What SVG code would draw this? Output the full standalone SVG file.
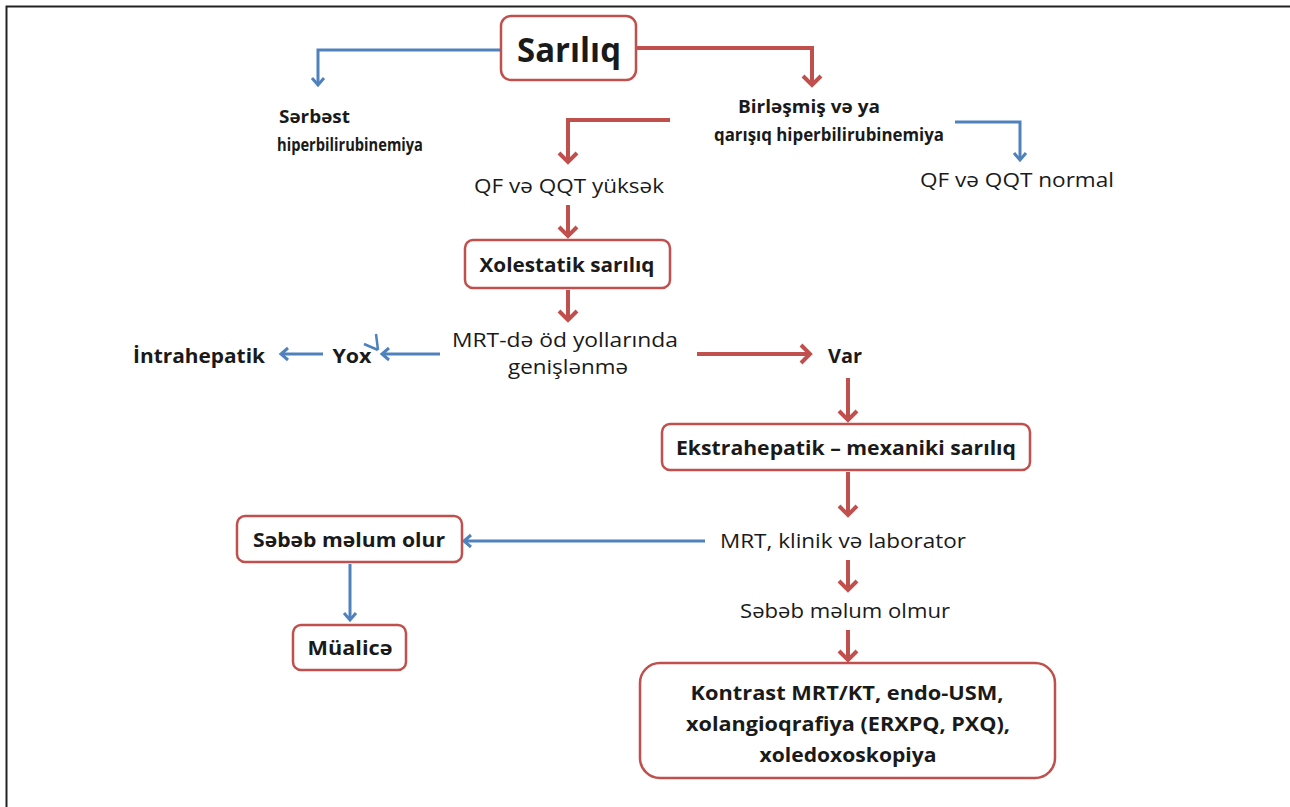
<svg xmlns="http://www.w3.org/2000/svg" width="1290" height="807" viewBox="0 0 1290 807">
<style>
.box{fill:#fff;stroke:#c0504d;stroke-width:2.5}
.r{fill:none;stroke:#c0504d;stroke-width:4;marker-end:url(#ar)}
.b{fill:none;stroke:#4f81bd;stroke-width:3;marker-end:url(#ab)}
text{font-family:"Open Sans","Noto Sans",sans-serif;fill:#1a1a1a;text-anchor:middle;font-size:20px}
.bd{font-weight:bold}
.sm{font-size:17px}
</style>
<defs>
<marker id="ar" viewBox="-12 -12 14 24" refX="0" refY="0" markerWidth="14" markerHeight="24" markerUnits="userSpaceOnUse" orient="auto" overflow="visible">
<path d="M-9,-9 L0,0 L-9,9" fill="none" stroke="#c0504d" stroke-width="4" stroke-linejoin="miter"/>
</marker>
<marker id="ab" viewBox="-10 -10 12 20" refX="0" refY="0" markerWidth="12" markerHeight="20" markerUnits="userSpaceOnUse" orient="auto" overflow="visible">
<path d="M-7,-6 L0,0 L-7,6" fill="none" stroke="#4f81bd" stroke-width="3"/>
</marker>
</defs>
<rect width="1290" height="807" fill="#fff"/>
<path d="M6.5,807 V6.5 H1290" fill="none" stroke="#222" stroke-width="2"/>

<g id="connectors">
<path class="b" d="M501,50 H318 V85"/>
<path class="r" d="M636,48 H812 V85"/>
<path class="r" d="M670,120 H568 V162"/>
<path class="b" d="M955,122 H1020 V160"/>
<path class="r" d="M568,205 V236"/>
<path class="r" d="M568,290 V320"/>
<path class="b" d="M440,354 H382"/>
<path d="M376,334 L378,350 M364,344 L378,350" fill="none" stroke="#4f81bd" stroke-width="2.5"/>
<path class="b" d="M323,354 H281"/>
<path class="r" d="M697,354 H810"/>
<path class="r" d="M848,378 V420"/>
<path class="r" d="M848,472 V515"/>
<path class="b" d="M705,541 H464"/>
<path class="b" d="M350,564 V620"/>
<path class="r" d="M848,560 V590"/>
<path class="r" d="M848,630 V660"/>
</g>

<g id="sariliq">
<rect class="box" x="501" y="16" width="135" height="64" rx="10"/>
<text class="bd" x="569" y="62" style="font-size:34px" textLength="104" lengthAdjust="spacingAndGlyphs">Sarılıq</text>
</g>
<g id="serbest">
<text class="bd sm" x="279" y="123" style="text-anchor:start" textLength="71" lengthAdjust="spacingAndGlyphs">Sərbəst</text>
<text class="bd sm" x="277" y="151" style="text-anchor:start" textLength="146" lengthAdjust="spacingAndGlyphs">hiperbilirubinemiya</text>
</g>
<g id="birlesmis">
<text class="bd sm" x="809" y="113" textLength="142" lengthAdjust="spacingAndGlyphs">Birləşmiş və ya</text>
<text class="bd sm" x="829" y="141" textLength="230" lengthAdjust="spacingAndGlyphs">qarışıq hiperbilirubinemiya</text>
</g>
<g id="qf-yuksek">
<text x="569" y="193" textLength="190" lengthAdjust="spacingAndGlyphs">QF və QQT yüksək</text>
</g>
<g id="qf-normal">
<text x="1017" y="187" textLength="194" lengthAdjust="spacingAndGlyphs">QF və QQT normal</text>
</g>
<g id="xolestatik">
<rect class="box" x="465" y="240" width="205" height="48" rx="8"/>
<text class="bd" x="567" y="272" textLength="175" lengthAdjust="spacingAndGlyphs">Xolestatik sarılıq</text>
</g>
<g id="mrt-genislenme">
<text x="565" y="347" textLength="226" lengthAdjust="spacingAndGlyphs">MRT-də öd yollarında</text>
<text x="568" y="374" textLength="120" lengthAdjust="spacingAndGlyphs">genişlənmə</text>
</g>
<g id="yox">
<text class="bd" x="352" y="363" textLength="39" lengthAdjust="spacingAndGlyphs">Yox</text>
</g>
<g id="intrahepatik">
<text class="bd" x="199" y="363" textLength="132" lengthAdjust="spacingAndGlyphs">İntrahepatik</text>
</g>
<g id="var">
<text class="bd" x="845" y="363" textLength="34" lengthAdjust="spacingAndGlyphs">Var</text>
</g>
<g id="ekstrahepatik">
<rect class="box" x="662" y="424" width="368" height="46" rx="8"/>
<text class="bd" x="846" y="455" textLength="340" lengthAdjust="spacingAndGlyphs">Ekstrahepatik – mexaniki sarılıq</text>
</g>
<g id="mrt-klinik">
<text x="843" y="548" textLength="246" lengthAdjust="spacingAndGlyphs">MRT, klinik və laborator</text>
</g>
<g id="sebeb-olur">
<rect class="box" x="237" y="516" width="225" height="46" rx="8"/>
<text class="bd" x="349" y="547" textLength="192" lengthAdjust="spacingAndGlyphs">Səbəb məlum olur</text>
</g>
<g id="mualice">
<rect class="box" x="293" y="625" width="113" height="45" rx="8"/>
<text class="bd" x="350" y="655" textLength="85" lengthAdjust="spacingAndGlyphs">Müalicə</text>
</g>
<g id="sebeb-olmur">
<text x="845" y="618" textLength="210" lengthAdjust="spacingAndGlyphs">Səbəb məlum olmur</text>
</g>
<g id="kontrast">
<rect class="box" x="640" y="663" width="415" height="115" rx="20"/>
<text class="bd" x="847" y="700" textLength="313" lengthAdjust="spacingAndGlyphs">Kontrast MRT/KT, endo-USM,</text>
<text class="bd" x="848" y="731" textLength="324" lengthAdjust="spacingAndGlyphs">xolangioqrafiya (ERXPQ, PXQ),</text>
<text class="bd" x="848" y="762" textLength="177" lengthAdjust="spacingAndGlyphs">xoledoxoskopiya</text>
</g>
</svg>
